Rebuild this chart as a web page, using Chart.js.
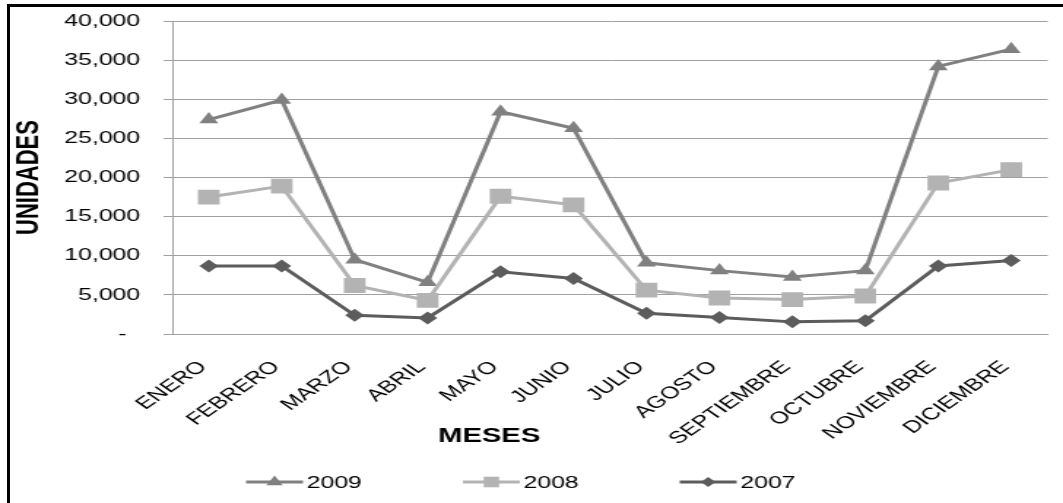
<!DOCTYPE html>
<html>
<head>
<meta charset="utf-8">
<script src="https://cdn.jsdelivr.net/npm/chart.js@4.4.1/dist/chart.umd.min.js"></script>
<style>
  html, body { margin: 0; padding: 0; background: #fff; }
  body { width: 1063px; height: 503px; overflow: hidden; position: relative; }
  /* the chart is laid out narrow, then widened horizontally */
  #stretch { position: absolute; left: 0; top: 0; width: 728px; height: 503px;
             transform: scaleX(1.4602); transform-origin: 0 0; }
  #frame { position: absolute; left: 7px; top: 4px; width: 1080px; height: 520px;
           border-top: 3px solid #000; border-left: 3px solid #000; pointer-events: none; }
</style>
</head>
<body>
<div id="stretch"><canvas id="c" width="728" height="503"></canvas></div>
<div id="frame"></div>
<script>
const meses = ['ENERO', 'FEBRERO', 'MARZO', 'ABRIL', 'MAYO', 'JUNIO', 'JULIO',
               'AGOSTO', 'SEPTIEMBRE', 'OCTUBRE', 'NOVIEMBRE', 'DICIEMBRE'];
const unidades2009 = [27400, 29900, 9500, 6600, 28400, 26300, 9100, 8100, 7300, 8100, 34200, 36400];
const unidades2008 = [17500, 18900, 6200, 4300, 17600, 16500, 5600, 4600, 4400, 4850, 19300, 21000];
const unidades2007 = [8700, 8700, 2400, 2050, 7950, 7100, 2650, 2100, 1550, 1700, 8700, 9400];
const tituloX = 'MESES';
const tituloY = 'UNIDADES';

const FONT = '"Liberation Sans", Arial, sans-serif';

function serie(label, data, color, pointStyle, radius, legendRadius, order) {
  return {
    label, data, order,
    borderColor: color, backgroundColor: color,
    pointBackgroundColor: color, pointBorderColor: color,
    borderWidth: 3, tension: 0,
    pointStyle, pointRadius: radius, pointBorderWidth: 0, pointHoverRadius: radius,
    legendRadius
  };
}

// legend row drawn under the axis: line + marker + label per series
const legendaFila = {
  id: 'legendaFila',
  afterDraw(chart) {
    const ctx = chart.ctx;
    const y = 482, start = 168.5, pitch = 148.5, lineLen = 39;
    ctx.save();
    chart.data.datasets.forEach((ds, i) => {
      const x0 = start + i * pitch;
      ctx.strokeStyle = ds.borderColor;
      ctx.lineWidth = 3;
      ctx.beginPath();
      ctx.moveTo(x0, y);
      ctx.lineTo(x0 + lineLen, y);
      ctx.stroke();
      ctx.fillStyle = ds.borderColor;
      Chart.helpers.drawPoint(ctx, {
        pointStyle: ds.pointStyle, radius: ds.legendRadius, rotation: 0, borderWidth: 0
      }, x0 + lineLen / 2, y);
      ctx.fillStyle = '#000';
      ctx.font = '17px ' + FONT;
      ctx.textAlign = 'left';
      ctx.textBaseline = 'middle';
      ctx.fillText(ds.label, x0 + lineLen + 2.5, y + 1);
    });
    // category axis title
    const a = chart.chartArea;
    ctx.font = 'bold 20px ' + FONT;
    ctx.fillStyle = '#000';
    ctx.textAlign = 'center';
    ctx.textBaseline = 'middle';
    ctx.fillText(tituloX, a.left + 0.362 * (a.right - a.left), a.bottom + 102);
    ctx.restore();
  }
};

new Chart(document.getElementById('c'), {
  type: 'line',
  data: {
    labels: meses,
    datasets: [
      serie('2009', unidades2009, '#808080', 'triangle', 7.5, 6.5, 3),
      serie('2008', unidades2008, '#b3b3b3', 'rect', 10.5, 7.5, 2),
      serie('2007', unidades2007, '#5c5c5c', 'rectRot', 6.5, 5, 1)
    ]
  },
  options: {
    responsive: false,
    animation: false,
    devicePixelRatio: 1,
    layout: { padding: { top: 21, right: 9, bottom: 0, left: 0 } },
    plugins: { legend: { display: false }, tooltip: { enabled: false } },
    scales: {
      x: {
        offset: true,
        grid: { display: false },
        border: { display: true, color: '#a0a0a0', width: 1 },
        ticks: {
          minRotation: 45, maxRotation: 45, autoSkip: false, padding: 15, labelOffset: -4,
          color: '#000', font: { family: FONT, size: 17 }
        },
        afterFit(scale) { scale.height = 169; }
      },
      y: {
        min: 0, max: 40000,
        grid: { color: '#a0a0a0', lineWidth: 1, tickLength: 6, drawTicks: true },
        border: { display: true, color: '#a0a0a0', width: 1 },
        ticks: {
          stepSize: 5000, padding: 16, color: '#000',
          font: { family: FONT, size: 17 },
          callback: v => v === 0 ? '-  ' : v.toLocaleString('en-US')
        },
        title: {
          display: true, text: tituloY, color: '#000',
          font: { family: FONT, size: 22, weight: 'bold' },
          padding: { top: 7, bottom: 0 }
        },
        afterFit(scale) {
          scale.width = 118;
          scale.paddingTop = 0;
          scale.paddingBottom = 0;
        }
      }
    }
  },
  plugins: [legendaFila]
});
</script>
</body>
</html>
